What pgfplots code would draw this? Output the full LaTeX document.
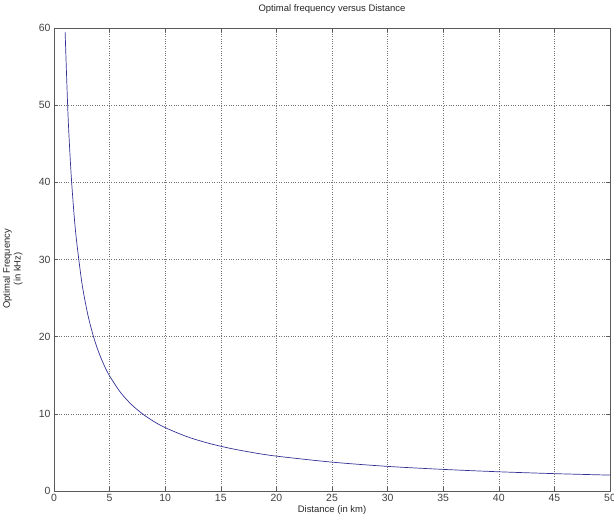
\documentclass[border=0pt]{standalone}
\usepackage{pgfplots}
\pgfplotsset{compat=1.18}
\usepackage{fontspec}
\setmainfont{Liberation Sans}

\definecolor{curve}{RGB}{50,50,150}
\definecolor{axisgray}{RGB}{90,90,90}

\begin{document}
\begin{tikzpicture}
\begin{axis}[
    at={(54bp,33bp)}, anchor=south west,
    width=556bp, height=463bp, scale only axis,
    xmin=0, xmax=50, ymin=0, ymax=60,
    xtick={0,5,...,50}, ytick={0,10,...,60},
    tick align=inside,
    major tick length=4bp,
    axis line style={axisgray, line width=0.9pt},
    tick style={axisgray, line width=0.5pt},
    grid=major,
    grid style={dotted, black!55, line width=0.5pt},
    /pgf/number format/assume math mode=true,
    tick label style={font=\fontsize{10.5}{12}\selectfont, text=black!75},
    label style={font=\fontsize{9.5}{11}\selectfont, text=black!85},
    title style={font=\fontsize{9.5}{11}\selectfont, text=black!85,
        at={(axis description cs:0.5,1)}, anchor=south, yshift=5bp},
    title={Optimal frequency versus Distance},
    xlabel={Distance (in km)},
    xlabel style={yshift=3bp},
    ylabel={Optimal Frequency\\(in kHz)},
    ylabel style={align=center, at={(axis description cs:-0.05,0.48)}, anchor=south},
]
\addplot[curve, line width=0.7pt, smooth] coordinates {
    (1,59.5) (1.25,49.1) (1.5,42.0) (1.75,36.8) (2,32.8) (2.5,27.06)
    (3,23.13) (3.5,20.26) (4,18.06) (4.5,16.32) (5,14.91) (6,12.74)
    (7,11.16) (8,9.95) (9,8.99) (10,8.21) (12,7.02) (14,6.15)
    (16,5.48) (18,4.95) (20,4.52) (25,3.74) (30,3.19) (35,2.80)
    (40,2.49) (45,2.25) (50,2.06)
};
\end{axis}
\pgfresetboundingbox
\path (0,0) rectangle (614bp,524bp);
\end{tikzpicture}
\end{document}
